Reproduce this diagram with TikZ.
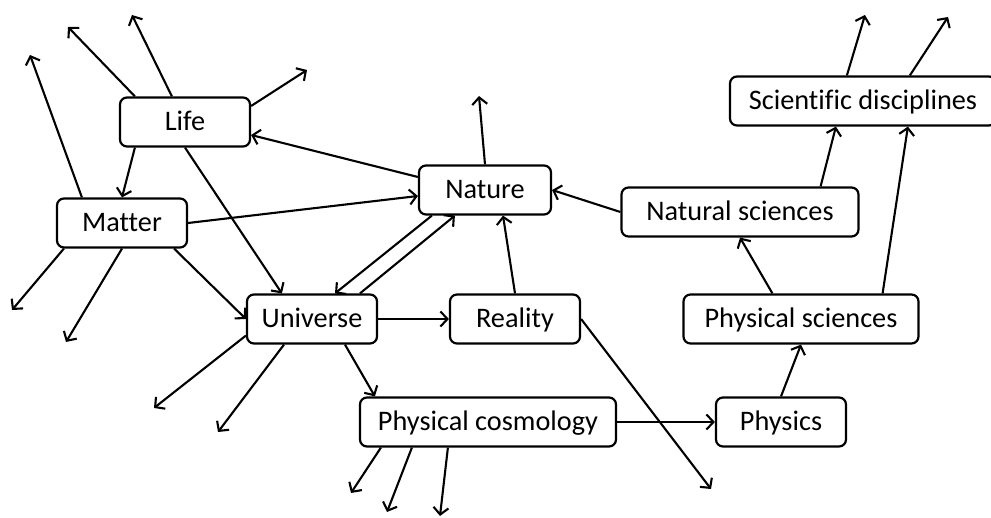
\documentclass[tikz,border=0pt]{standalone}
\usepackage{fontspec}
\setmainfont[Ligatures=NoCommon]{Carlito}
\usetikzlibrary{arrows.meta}
\begin{document}
\begin{tikzpicture}[x=1pt,y=-1pt,
  conceptbox/.style={draw, line width=2.2pt, rounded corners=7pt, minimum height=49pt,
    minimum width=130pt, inner sep=0pt, text height=18pt, text depth=0pt,
    font=\fontsize{28.3pt}{28.3pt}\selectfont},
  link/.style={line width=2.1pt, -{Straight Barb[length=7pt,width=15pt]}}]
\useasboundingbox (0,0) rectangle (991,518);
% concept boxes
\node[conceptbox] (life) at (185,122) {Life};
\node[conceptbox] (matter) at (122,223) {Matter};
\node[conceptbox, minimum width=132pt] (nature) at (485,190) {Nature};
\node[conceptbox, minimum width=237pt] (natsci) at (740,212) {Natural sciences};
\node[conceptbox, minimum width=266pt] (scidisc) at (863,101) {Scientific disciplines};
\node[conceptbox] (universe) at (312,319) {Universe};
\node[conceptbox] (reality) at (515,319) {Reality};
\node[conceptbox, minimum width=235pt] (physsci) at (801,319) {Physical sciences};
\node[conceptbox, minimum width=256pt] (physcos) at (488,422) {Physical cosmology};
\node[conceptbox] (physics) at (781,422) {Physics};
% loose ends
\coordinate (lifeout1) at (68,27);
\coordinate (lifeout2) at (132,15);
\coordinate (lifeout3) at (307,70);
\coordinate (matterout1) at (30,55);
\coordinate (matterout2) at (12,310);
\coordinate (matterout3) at (66,342);
\coordinate (natureout) at (479,96);
\coordinate (universeout1) at (154,408);
\coordinate (universeout2) at (218,432);
\coordinate (realityout) at (711,489);
\coordinate (physcosout1) at (351,493);
\coordinate (physcosout2) at (387,512);
\coordinate (physcosout3) at (440,516);
\coordinate (scidiscout1) at (865,15);
\coordinate (scidiscout2) at (948,17);
% links
\draw[link] ([xshift=16pt]life.north west) -- (lifeout1);
\draw[link] ([xshift=53pt]life.north west) -- (lifeout2);
\draw[link] ([yshift=16pt]life.east) -- (lifeout3);
\draw[link] ([xshift=16pt]life.south west) -- (matter.north);
\draw[link] (life.south) -- ([xshift=36pt]universe.north west);
\draw[link] ([xshift=26pt]matter.north west) -- (matterout1);
\draw[link] (matter.east) -- ([yshift=-6pt]nature.west);
\draw[link] ([xshift=8pt]matter.south west) -- (matterout2);
\draw[link] (matter.south) -- (matterout3);
\draw[link] ([xshift=-14pt]matter.south east) -- (universe.west);
\draw[link] ([yshift=13pt]nature.west) -- ([yshift=-13pt]life.east);
\draw[link] (nature.north) -- (natureout);
\draw[link] (natsci.west) -- (nature.east);
\draw[link] ([xshift=14pt]nature.south west) -- ([xshift=23pt]universe.north);
\draw[link] ([xshift=48pt]universe.north) -- ([xshift=37pt]nature.south west);
\draw[link] (reality.north) -- ([xshift=18pt]nature.south);
\draw[link] (universe.east) -- (reality.west);
\draw[link] ([yshift=9pt]universe.south west) -- (universeout1);
\draw[link] ([xshift=-28pt]universe.south) -- (universeout2);
\draw[link] ([xshift=33pt]universe.south) -- ([xshift=16pt]physcos.north west);
\draw[link] (reality.east) -- (realityout);
\draw[link] (physcos.east) -- (physics.west);
\draw[link] ([xshift=22pt]physcos.south west) -- (physcosout1);
\draw[link] ([xshift=53pt]physcos.south west) -- (physcosout2);
\draw[link] ([xshift=89pt]physcos.south west) -- (physcosout3);
\draw[link] (physics.north) -- (physsci.south);
\draw[link] ([xshift=90pt]physsci.north west) -- (natsci.south);
\draw[link] ([xshift=-37pt]physsci.north east) -- ([xshift=179pt]scidisc.south west);
\draw[link] ([xshift=-39pt]natsci.north east) -- ([xshift=107pt]scidisc.south west);
\draw[link] ([xshift=118pt]scidisc.north west) -- (scidiscout1);
\draw[link] ([xshift=181pt]scidisc.north west) -- (scidiscout2);
\end{tikzpicture}
\end{document}
